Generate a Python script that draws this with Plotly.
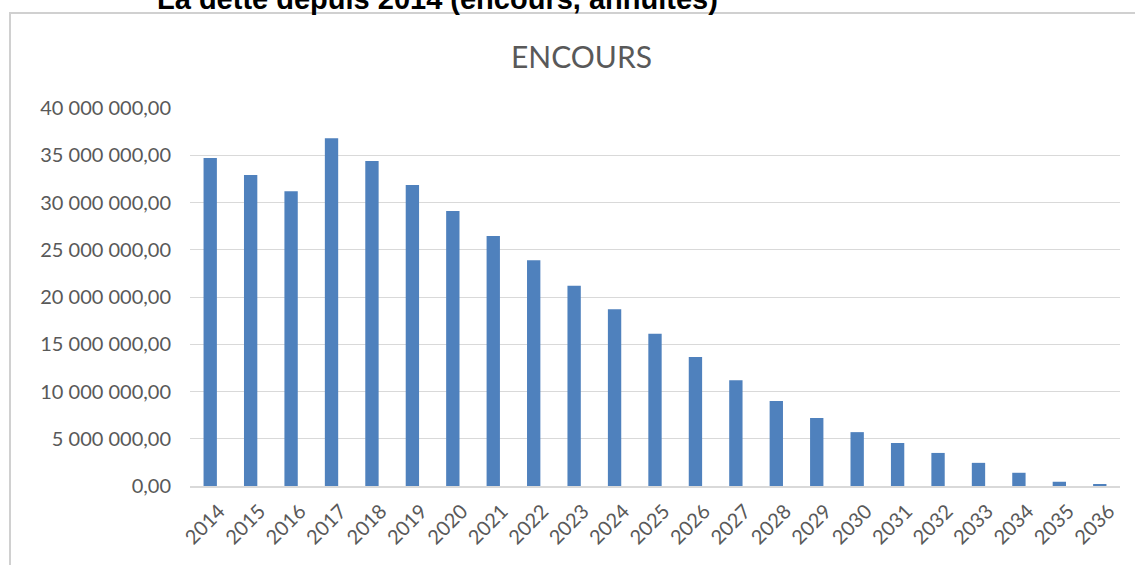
import plotly.graph_objects as go

years = [str(y) for y in range(2014, 2037)]
encours = [34.7e6, 32.9e6, 31.2e6, 36.8e6, 34.4e6, 31.85e6, 29.1e6, 26.45e6, 23.9e6,
           21.2e6, 18.7e6, 16.1e6, 13.65e6, 11.2e6, 9.0e6, 7.2e6, 5.7e6, 4.55e6,
           3.5e6, 2.45e6, 1.4e6, 0.45e6, 0.18e6]
ytick_vals = [0, 5e6, 10e6, 15e6, 20e6, 25e6, 30e6, 35e6, 40e6]
ytick_text = ["0,00", "5 000 000,00", "10 000 000,00", "15 000 000,00", "20 000 000,00",
              "25 000 000,00", "30 000 000,00", "35 000 000,00", "40 000 000,00"]
chart_title = "ENCOURS"
page_title = "La dette depuis 2014 (encours, annuités)"

W, H = 1135, 565
L, R, T, B = 190, 15, 108, 79
ph = H - T - B
pw = W - L - R

def py(p):
    return (H - B - p) / ph

def px(p):
    return (p - L) / pw

fig = go.Figure(go.Bar(x=years, y=encours, marker=dict(color="#4F81BD", line=dict(width=0)),
                       width=0.33))

fig.update_layout(
    width=W, height=H,
    margin=dict(l=L, r=R, t=T, b=B),
    paper_bgcolor="white", plot_bgcolor="white",
    font=dict(family="Lato, Noto Sans, sans-serif", color="#595959"),
    showlegend=False,
    xaxis=dict(type="category", tickangle=-45, tickfont=dict(size=20, color="#595959"),
               showline=True, linecolor="#d9d9d9", linewidth=1.5, ticks="", showgrid=False,
               ticklabelshift=9, ticklabelstandoff=4),
    yaxis=dict(range=[0, 40e6], tickvals=ytick_vals, ticktext=ytick_text,
               tickfont=dict(size=20, color="#595959"), showgrid=True, gridcolor="#d9d9d9",
               gridwidth=1, zeroline=False, showline=False, ticks="", ticklabelstandoff=18),
    annotations=[
        dict(text=chart_title, xref="paper", yref="paper", x=px(581), y=py(56),
             xanchor="center", yanchor="middle", showarrow=False,
             font=dict(size=30, color="#595959", family="Lato, Noto Sans, sans-serif")),
        dict(text="<b>" + page_title + "</b>", xref="paper", yref="paper", x=px(437), y=py(-1),
             xanchor="center", yanchor="middle", showarrow=False,
             font=dict(size=29, color="#000000", family="Liberation Sans, Arial, sans-serif")),
    ],
    shapes=[dict(type="rect", xref="paper", yref="paper", x0=px(10), x1=px(1145),
                 y0=py(600), y1=py(13), line=dict(color="#d0d0d0", width=2),
                 fillcolor="rgba(0,0,0,0)", layer="below")],
)

fig.write_html("out.html")
